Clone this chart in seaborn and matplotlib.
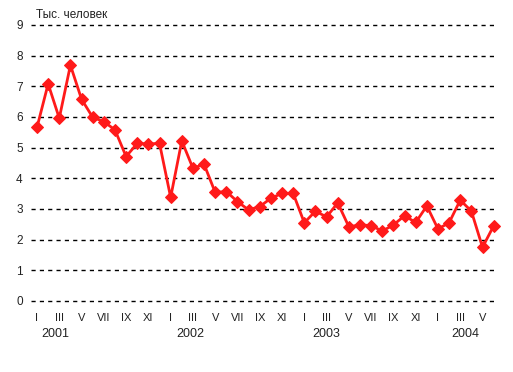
import pandas as pd
import seaborn as sns
from matplotlib import pyplot as plt
from matplotlib import transforms

# monthly values, Jan 2001 .. Jun 2004 (thousand people)
values_2001 = [5.66, 7.08, 5.96, 7.69, 6.58, 5.99, 5.85, 5.58, 4.71, 5.14, 5.12, 5.14]
values_2002 = [3.38, 5.22, 4.33, 4.46, 3.54, 3.57, 3.24, 2.97, 3.08, 3.35, 3.51, 3.51]
values_2003 = [2.55, 2.93, 2.74, 3.20, 2.42, 2.48, 2.46, 2.28, 2.48, 2.78, 2.56, 3.10]
values_2004 = [2.35, 2.55, 3.29, 2.93, 1.75, 2.45]

month_labels = ['I', 'III', 'V', 'VII', 'IX', 'XI']
years = ['2001', '2002', '2003', '2004']
year_label_pos = [1.6, 13.8, 26.0, 38.5]

values = values_2001 + values_2002 + values_2003 + values_2004
df = pd.DataFrame({'month': range(len(values)), 'value': values})

sns.set_style('white')
plt.rcParams['font.family'] = ['Liberation Sans', 'DejaVu Sans']

fig = plt.figure(figsize=(5.13, 3.72), dpi=100)
ax = fig.add_axes([0.0604, 0.1909, 0.9084, 0.7419])

# dashed horizontal grid
for y in range(0, 10):
    ax.axhline(y, color='black', lw=1, ls=(0, (3, 3)), zorder=1, clip_on=False)

sns.lineplot(data=df, x='month', y='value', ax=ax, color='#ff1a1a', lw=2,
             marker='D', markersize=6, markeredgecolor='#ff1a1a', zorder=3,
             clip_on=False)

ax.set_xlim(-0.54, 41.3)
ax.set_ylim(0, 9)
ax.set_yticks(range(0, 10))
ax.set_yticklabels([str(i) for i in range(0, 10)], fontsize=8.5, color='#222222')

ticks = [m for m in range(len(values)) if m % 2 == 0]
ax.set_xticks(ticks)
ax.set_xticklabels([month_labels[(m % 12) // 2] for m in ticks], fontsize=8, color='#222222')
ax.tick_params(axis='both', length=0, pad=6)
ax.tick_params(axis='x', pad=9)
ax.set_xlabel('')
ax.set_ylabel('')
for s in ax.spines.values():
    s.set_visible(False)

trans = transforms.blended_transform_factory(ax.transData, fig.transFigure)
for yr, pos in zip(years, year_label_pos):
    ax.text(pos, 1 - 334 / 372, yr, transform=trans, ha='center', va='center',
            fontsize=9, color='#222222')

fig.text(36 / 513, 1 - 15 / 372, 'Тыс. человек', ha='left', va='center',
         fontsize=8.5, color='#222222')

fig.savefig('out.png', dpi=100, facecolor='white')
